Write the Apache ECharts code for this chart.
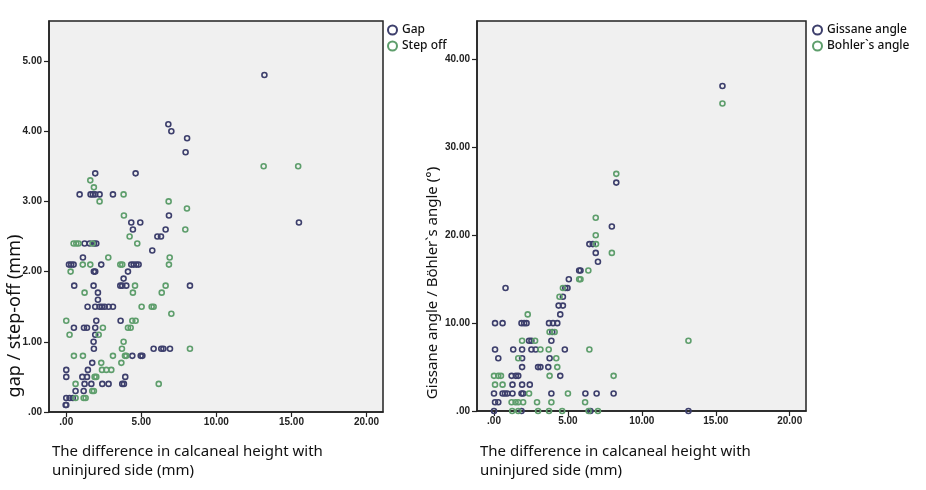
<!DOCTYPE html>
<html><head><meta charset="utf-8">
<script src="https://cdn.jsdelivr.net/npm/echarts@6/dist/echarts.min.js"></script>
<style>html,body{margin:0;padding:0;background:#fff}#c{width:926px;height:490px}</style>
</head><body><div id="c"></div>
<script>
// ---- Data ----
const xTicks = [0, 5, 10, 15, 20];
const leftYTicks = [0, 1, 2, 3, 4, 5];
const rightYTicks = [0, 10, 20, 30, 40];

const gapX = [13.2,6.8,7.0,8.05,7.95,1.93,4.62,0.89,1.62,1.77,1.93,2.22,3.11,6.84,4.33,4.93,15.5,4.44,6.62,6.07,6.31,1.22,1.56,1.85,2.0,5.73,1.11,0.18,0.33,0.49,2.33,4.33,4.49,4.67,4.82,1.84,1.93,4.11,3.82,0.53,1.82,3.6,3.73,4.0,8.24,2.11,2.11,1.42,1.93,2.22,2.38,2.56,2.82,3.11,2.0,3.62,0.51,1.18,1.38,1.93,1.93,1.82,1.84,5.82,6.33,6.47,6.91,4.4,4.96,5.07,1.73,0.0,1.44,0.0,1.07,1.38,3.93,1.22,1.67,2.4,2.82,3.73,3.84,0.62,1.16,0.0,0.22,0.44,-0.04,0.0];
const gapY = [4.8,4.1,4.0,3.9,3.7,3.4,3.4,3.1,3.1,3.1,3.1,3.1,3.1,2.8,2.7,2.7,2.7,2.6,2.6,2.5,2.5,2.4,2.4,2.4,2.4,2.3,2.2,2.1,2.1,2.1,2.1,2.1,2.1,2.1,2.1,2.0,2.0,2.0,1.9,1.8,1.8,1.8,1.8,1.8,1.8,1.7,1.6,1.5,1.5,1.5,1.5,1.5,1.5,1.5,1.3,1.3,1.2,1.2,1.2,1.2,1.1,1.0,0.9,0.9,0.9,0.9,0.9,0.8,0.8,0.8,0.7,0.6,0.6,0.5,0.5,0.5,0.5,0.4,0.4,0.4,0.4,0.4,0.4,0.3,0.3,0.2,0.2,0.2,0.1,0.1];

const stepX = [13.15,15.45,1.6,1.84,3.82,2.22,6.82,8.04,3.84,7.93,4.22,0.49,0.67,0.82,1.75,4.73,2.8,6.89,1.1,1.6,3.6,3.73,6.84,0.29,4.58,6.62,1.22,4.44,6.36,5.02,5.69,5.82,7.0,0.0,4.4,4.62,2.44,4.11,4.29,0.22,2.16,3.82,3.71,8.24,0.51,1.11,3.11,3.91,4.0,2.33,3.67,2.38,2.67,3.0,1.89,2.0,0.62,6.16,1.73,1.84,0.62,1.16,1.29];
const stepY = [3.5,3.5,3.3,3.2,3.1,3.0,3.0,2.9,2.8,2.6,2.5,2.4,2.4,2.4,2.4,2.4,2.2,2.2,2.1,2.1,2.1,2.1,2.1,2.0,1.8,1.8,1.7,1.7,1.7,1.5,1.5,1.5,1.4,1.3,1.3,1.3,1.2,1.2,1.2,1.1,1.1,1.0,0.9,0.9,0.8,0.8,0.8,0.8,0.8,0.7,0.7,0.6,0.6,0.6,0.5,0.5,0.4,0.4,0.3,0.3,0.2,0.2,0.2];

const gissX = [15.45,8.27,7.97,6.45,6.68,6.88,7.03,5.76,5.85,5.06,0.78,4.82,4.97,4.66,4.37,4.66,4.48,0.07,0.58,1.86,2.04,2.2,3.72,3.99,4.28,3.94,2.37,2.53,3.88,0.07,1.3,1.9,2.53,2.82,4.79,0.29,1.9,3.76,1.9,2.98,3.14,3.67,1.19,1.48,1.64,4.48,1.25,1.9,2.42,0,0.58,0.74,0.9,1.25,1.86,1.97,3.88,6.18,6.94,8.09,0.07,0.29,0,1.86,6.52,13.15];
const gissY = [37,26,21,19,19,18,17,16,16,15,14,14,14,13,12,12,11,10,10,10,10,10,10,10,10,9,8,8,8,7,7,7,7,7,7,6,6,6,5,5,5,5,4,4,4,4,3,3,3,2,2,2,2,2,2,2,2,2,2,2,1,1,0,0,0,0];

const bohlX = [15.45,8.27,6.88,6.88,6.9,7.97,6.38,5.76,5.85,4.66,4.43,2.28,3.76,4.1,1.9,2.78,13.15,3.14,3.7,6.45,1.64,4.21,4.28,0,0.29,0.47,3.76,8.09,0.07,0.58,2.37,5.0,1.19,1.46,1.64,1.97,2.91,3.88,6.16,1.23,1.64,2.98,3.72,4.61,6.4,7.03];
const bohlY = [35,27,22,20,19,18,16,15,15,14,13,11,9,9,8,8,8,7,7,7,6,6,5,4,4,4,4,4,3,3,2,2,1,1,1,1,1,1,1,0,0,0,0,0,0,0];

const legendLeft = ['Gap', 'Step off'];
const legendRight = ['Gissane angle', 'Bohler`s angle'];

// ---- Build ----
const DARK = '#3d3f6c', GREEN = '#5e9e6c';
const pairs = (xs, ys) => xs.map((x, i) => [x, ys[i]]);
const fmt = v => v === 0 ? '.00' : v.toFixed(2);
const tickFont = 'Liberation Sans Narrow, Liberation Sans, sans-serif';

function xAxis(grid) {
  return {
    type: 'value', gridIndex: grid, min: -1.15, max: 21.1,
    axisLine: { show: true, onZero: false, lineStyle: { color: '#222', width: 1.5 } },
    axisTick: { show: true, length: 5, lineStyle: { color: '#222', width: 1.2 }, customValues: xTicks },
    axisLabel: { customValues: xTicks, formatter: fmt, fontSize: 10, fontWeight: 'bold', color: '#222', margin: 5, fontFamily: tickFont },
    splitLine: { show: false }
  };
}
function yAxis(grid, max, ticks) {
  return {
    type: 'value', gridIndex: grid, min: 0, max: max,
    axisLine: { show: true, onZero: false, lineStyle: { color: '#222', width: 1.5 } },
    axisTick: { show: true, length: 5, lineStyle: { color: '#222', width: 1.2 }, customValues: ticks },
    axisLabel: { customValues: ticks, formatter: fmt, fontSize: 10, fontWeight: 'bold', color: '#222', margin: 7, fontFamily: tickFont },
    splitLine: { show: false }
  };
}
function series(name, data, color, xi) {
  return {
    name: name, type: 'scatter', xAxisIndex: xi, yAxisIndex: xi, data: data,
    symbol: 'circle', symbolSize: 5, clip: false,
    itemStyle: { color: 'rgba(0,0,0,0)', borderColor: color, borderWidth: 1.6, opacity: 1 },
    emphasis: { disabled: true }
  };
}
const titleFont = 'Noto Sans, sans-serif';
const chart = echarts.init(document.getElementById('c'), null, { renderer: 'canvas' });
chart.setOption({
  animation: false,
  backgroundColor: '#fff',
  grid: [
    { left: 49, top: 21, width: 334, height: 391, show: true, backgroundColor: '#f0f0f0', borderColor: '#222', borderWidth: 1.5 },
    { left: 477, top: 21, width: 329, height: 390, show: true, backgroundColor: '#f0f0f0', borderColor: '#222', borderWidth: 1.5 }
  ],
  xAxis: [xAxis(0), xAxis(1)],
  yAxis: [yAxis(0, 5.57, leftYTicks), yAxis(1, 44.4, rightYTicks)],
  legend: [
    { data: legendLeft, orient: 'vertical', left: 382, top: 19, itemWidth: 9, itemHeight: 9, itemGap: 4,
      textStyle: { fontSize: 12, color: '#111', fontFamily: titleFont, fontWeight: 500 } },
    { data: legendRight, orient: 'vertical', left: 807, top: 19, itemWidth: 9, itemHeight: 9, itemGap: 4,
      textStyle: { fontSize: 12, color: '#111', fontFamily: titleFont, fontWeight: 500 } }
  ],
  graphic: [
    { type: 'text', left: 52, top: 442, style: { text: 'The difference in calcaneal height with\nuninjured side (mm)', font: '15px ' + titleFont, fill: '#111', lineHeight: 19 } },
    { type: 'text', left: 480, top: 442, style: { text: 'The difference in calcaneal height with\nuninjured side (mm)', font: '15px ' + titleFont, fill: '#111', lineHeight: 19 } },
    { type: 'text', x: 15, y: 316, rotation: Math.PI / 2, style: { text: 'gap / step-off (mm)', font: '18px ' + titleFont, fill: '#111', align: 'center', verticalAlign: 'middle' } },
    { type: 'text', x: 433, y: 283, rotation: Math.PI / 2, style: { text: 'Gissane angle / Böhler`s angle (°)', font: '15px ' + titleFont, fill: '#111', align: 'center', verticalAlign: 'middle' } }
  ],
  series: [
    series('Gap', pairs(gapX, gapY), DARK, 0),
    series('Step off', pairs(stepX, stepY), GREEN, 0),
    series('Gissane angle', pairs(gissX, gissY), DARK, 1),
    series('Bohler`s angle', pairs(bohlX, bohlY), GREEN, 1)
  ]
});
</script></body></html>
